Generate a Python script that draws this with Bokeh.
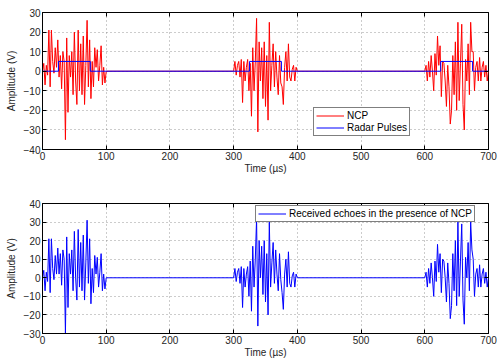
import numpy as np
from bokeh.plotting import figure
from bokeh.layouts import column
from bokeh.models import FixedTicker, LinearAxis, Legend, LegendItem, Range1d
from bokeh.embed import file_html
from bokeh.resources import INLINE

# ---------------- data ----------------
burst_starts = [0, 300, 600]          # µs
sample_step = 2                       # µs between NCP samples
ncp_burst1 = [0, 4, -7, 3, -2, 21, -8, 21, 5, -1, 12, 2, 16, -3, 8, -9, 10, 5,
              -35, 17, -21, 8, -3, 10, -12, 20, -5, -17, 21, -10, 14, -12, 18,
              -17, 3, 26, -8, 16, -14, 5, -8, 12, 2, 11, -5, 3, 13, -7, 2, -6, 0]
ncp_burst2 = [0, 5, -2, 3, 5, -3, 6, -16, 5, -5, 2, 6, -10, 4, -23, 12, -10, 5,
              27, -31, 15, -5, 12, -14, 15, -18, 8, -25, 25, -10, 3, 14, -8, 10,
              -3, -12, 8, -6, -8, -17, 2, 10, -5, 14, -3, -5, 1, 3, -5, 2, 0]
ncp_burst3 = [0, 3, -5, 5, -3, 8, 0, -10, 9, -2, 18, 3, 13, -13, 5, 4, -5, -18,
              3, -8, -27, -20, 8, -12, 15, -20, 25, -15, 4, 24, -17, -30, 6, -5,
              14, -12, 25, 10, 10, -10, 2, 5, -5, 7, -5, 2, 5, -3, 3, -5, 0]
pulse_starts = [25, 325, 625]         # µs
pulse_width = 50                      # µs
pulse_amplitude = 5                   # V
x_ticks = [0, 100, 200, 300, 400, 500, 600, 700]
y_ticks_top = [-40, -30, -20, -10, 0, 10, 20, 30]
y_ticks_bottom = [-30, -20, -10, 0, 10, 20, 30, 40]

# ---------------- derived series ----------------
bursts = [ncp_burst1, ncp_burst2, ncp_burst3]
t_ncp = np.concatenate([s + sample_step * np.arange(len(b)) for s, b in zip(burst_starts, bursts)])
ncp = np.concatenate([np.array(b, dtype=float) for b in bursts])

px, py = [0], [0]
for s in pulse_starts:
    px += [s, s, s + pulse_width, s + pulse_width]
    py += [0, pulse_amplitude, pulse_amplitude, 0]
px.append(700)
py.append(0)

pulse_at = np.zeros_like(t_ncp, dtype=float)
for s in pulse_starts:
    pulse_at[(t_ncp >= s) & (t_ncp < s + pulse_width)] = pulse_amplitude
received = ncp + pulse_at

FONT = "Liberation Sans"


def style(p, yticks):
    p.outline_line_color = "black"
    p.outline_line_width = 1
    for ax in [p.xaxis[0], p.yaxis[0]]:
        ax.major_label_text_font = FONT
        ax.major_label_text_font_size = "10px"
        ax.major_label_text_color = "#262626"
        ax.axis_label_text_font = FONT
        ax.axis_label_text_font_size = "10px"
        ax.axis_label_text_font_style = "normal"
        ax.axis_label_text_color = "#262626"
        ax.major_tick_in = 4
        ax.major_tick_out = 0
        ax.minor_tick_line_color = None
        ax.axis_line_color = "black"
        ax.major_tick_line_color = "black"
        ax.major_label_standoff = 2
    p.xaxis[0].ticker = FixedTicker(ticks=x_ticks)
    p.yaxis[0].ticker = FixedTicker(ticks=yticks)
    p.xaxis[0].axis_label_standoff = 0
    p.yaxis[0].axis_label_standoff = 4
    for g, t in [(p.xgrid[0], x_ticks), (p.ygrid[0], yticks)]:
        g.ticker = FixedTicker(ticks=t)
        g.grid_line_color = "#808080"
        g.grid_line_alpha = 0.8
        g.grid_line_dash = "1 3"
    # inner ticks on the right and top sides (no labels drawn)
    ra = LinearAxis(ticker=FixedTicker(ticks=yticks), major_label_text_color=None,
                    major_label_text_font_size="1px",
                    major_tick_in=4, major_tick_out=0, minor_tick_line_color=None,
                    axis_line_color=None, major_label_standoff=0)
    ta = LinearAxis(ticker=FixedTicker(ticks=x_ticks), major_label_text_color=None,
                    major_label_text_font_size="1px",
                    major_tick_in=4, major_tick_out=0, minor_tick_line_color=None,
                    axis_line_color=None, major_label_standoff=0)
    p.add_layout(ra, "right")
    p.add_layout(ta, "above")


def style_legend(lg):
    lg.border_line_color = "black"
    lg.border_line_width = 1
    lg.label_text_font = FONT
    lg.label_text_font_size = "10px"
    lg.label_text_color = "black"
    lg.glyph_width = 28
    lg.glyph_height = 11
    lg.label_height = 11
    lg.label_standoff = 3
    lg.padding = 2
    lg.spacing = 1
    lg.margin = 0
    lg.background_fill_color = "white"
    lg.background_fill_alpha = 1


# ---------------- top plot ----------------
p1 = figure(width=497, height=176, output_backend="svg", toolbar_location=None,
            x_range=Range1d(0, 700), y_range=Range1d(-40, 30),
            min_border_left=42, min_border_right=9, min_border_top=12, min_border_bottom=27,
            x_axis_label="Time (µs)", y_axis_label="Amplitude (V)")
p1.background_fill_color = "white"
style(p1, y_ticks_top)
r_ncp = p1.line(t_ncp, ncp, line_color="#ff0000", line_width=1)
r_pulse = p1.line(px, py, line_color="#0000ff", line_width=1)
lg1 = Legend(items=[LegendItem(label="NCP", renderers=[r_ncp]),
                    LegendItem(label="Radar Pulses", renderers=[r_pulse])],
             location=(271, 13))
style_legend(lg1)
p1.add_layout(lg1, "center")

# ---------------- bottom plot ----------------
p2 = figure(width=497, height=184, output_backend="svg", toolbar_location=None,
            x_range=Range1d(0, 700), y_range=Range1d(-30, 40),
            min_border_left=42, min_border_right=9, min_border_top=27, min_border_bottom=26,
            x_axis_label="Time (µs)", y_axis_label="Amplitude (V)")
style(p2, y_ticks_bottom)
r_rx = p2.line(t_ncp, received, line_color="#0000ff", line_width=1)
lg2 = Legend(items=[LegendItem(label="Received echoes in the presence of NCP", renderers=[r_rx])],
             location=(213, 111))
style_legend(lg2)
p2.add_layout(lg2, "center")

layout = column(p1, p2, spacing=0)
open("out.html", "w").write(file_html(layout, INLINE))
